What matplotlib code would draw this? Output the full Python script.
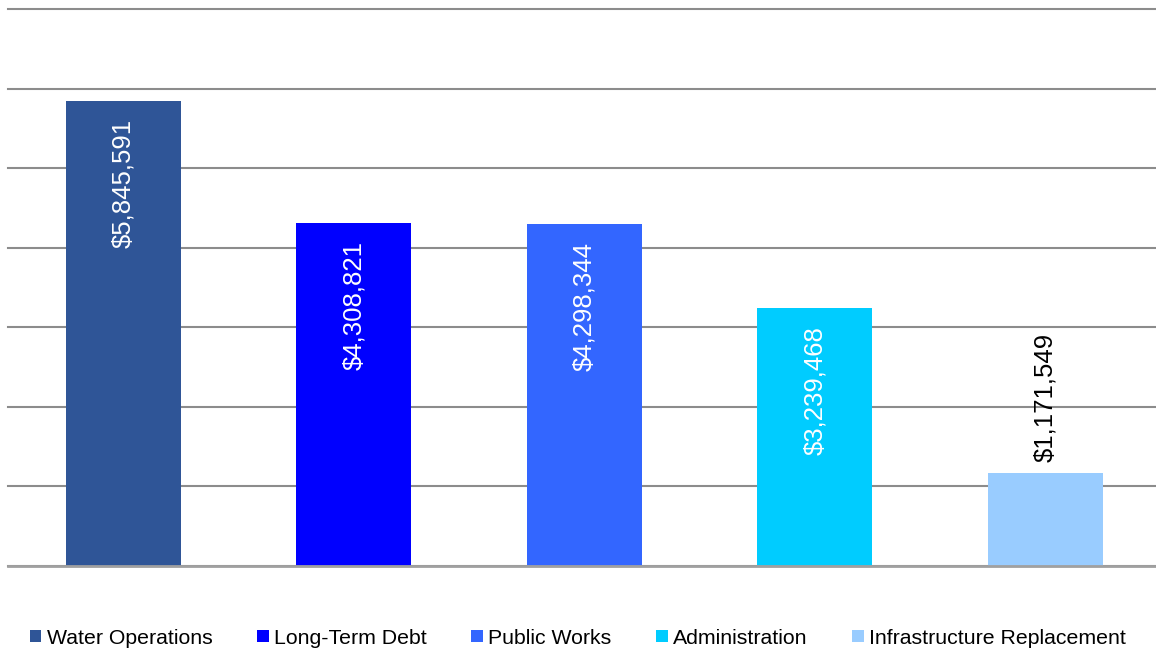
import matplotlib.pyplot as plt
from matplotlib.patches import Patch

plt.rcParams['font.family'] = ['Liberation Sans', 'DejaVu Sans']

#data
categories = ['Water Operations', 'Long-Term Debt', 'Public Works',
              'Administration', 'Infrastructure Replacement']
values = [5845591, 4308821, 4298344, 3239468, 1171549]
colors = ['#2F5597', '#0000FF', '#3366FF', '#00CCFF', '#99CCFF']

#draw graph
fig = plt.figure(figsize=(11.56, 6.51), dpi=100)
ax = fig.add_axes([8 / 1156, (651 - 566) / 651, 1152.5 / 1156, 557 / 651])

x = range(len(categories))
bars = ax.bar(x, values, width=0.5, color=colors, zorder=3)

ax.set_xlim(-0.5, len(categories) - 0.5)
ax.set_ylim(0, 7000000)
ax.set_yticks(range(0, 7000001, 1000000))
ax.yaxis.grid(True, color='#8C8C8C', linewidth=1.5, zorder=0)
for line in ax.get_ygridlines():
    line.set_clip_on(False)
ax.set_xticks([])
ax.tick_params(left=False, labelleft=False)
for side in ['top', 'right', 'left']:
    ax.spines[side].set_visible(False)
ax.spines['bottom'].set_color('#A0A0A0')
ax.spines['bottom'].set_linewidth(2)
ax.spines['bottom'].set_zorder(4)

#value labels
for xi, v in zip(x, values):
    label = '${:,}'.format(v)
    if v > 2000000:
        ax.annotate(label, (xi, v), xytext=(0, -13), textcoords='offset points',
                    rotation=90, ha='center', va='top', color='white',
                    fontsize=18.5, zorder=5)
    else:
        ax.annotate(label, (xi, v), xytext=(0, 8), textcoords='offset points',
                    rotation=90, ha='center', va='bottom', color='black',
                    fontsize=18.5, zorder=5)

#legend
handles = [Patch(facecolor=c, edgecolor='none') for c in colors]
fig.legend(handles, categories, loc='center', bbox_to_anchor=(0.5, 13 / 651),
           ncol=5, frameon=False, fontsize=15.3, handlelength=0.55,
           handleheight=0.55, handletextpad=0.25, columnspacing=2.1,
           borderaxespad=0, borderpad=0)

plt.savefig('out.png', dpi=100)
plt.close()
